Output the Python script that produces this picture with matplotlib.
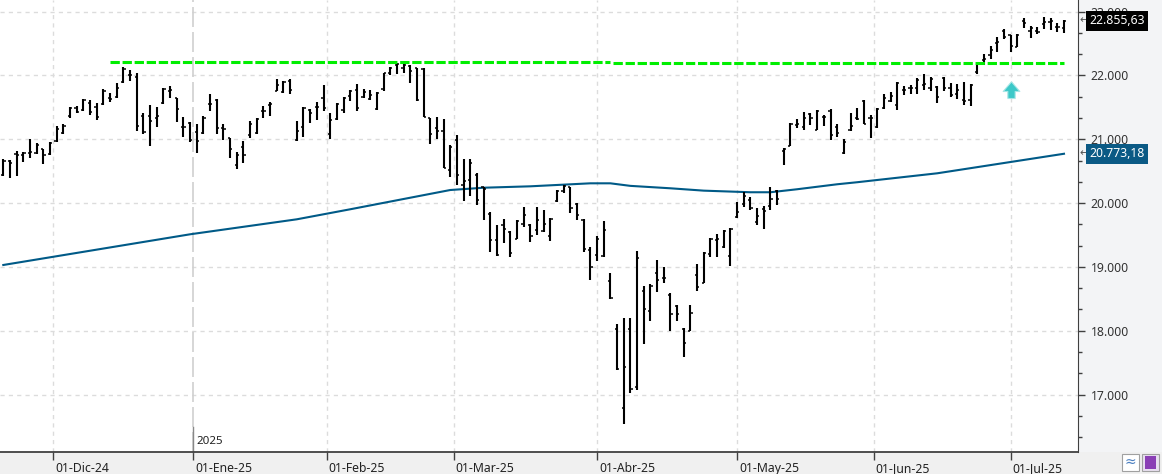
import matplotlib
matplotlib.use('Agg')
import matplotlib.pyplot as plt
import matplotlib.transforms as mtransforms
from matplotlib.patches import Rectangle
from matplotlib.path import Path
import numpy as np
import pandas as pd

# trading calendar (US market holidays skipped)
holidays = ['2024-11-28', '2024-12-25', '2025-01-01', '2025-01-09', '2025-01-20',
            '2025-02-17', '2025-04-18', '2025-05-26', '2025-06-19', '2025-07-04']
dates = pd.bdate_range('2024-11-19', '2025-07-14')
dates = dates[~dates.isin(pd.to_datetime(holidays))]

opens = [20440, 20660, 20770, 20754, 20790, 20780, 20848, 20764, 20974, 21094,
         21366, 21497, 21461, 21565, 21513, 21550, 21654, 21670, 21895, 22010,
         21974, 21366, 21361, 21330, 21565, 21749, 21644, 21199, 21251, 21110,
         21094, 21550, 21618, 21173, 21016, 20597, 20885, 21068, 21094, 21445,
         21539, 21759, 21738, 21916, 20989, 21199, 21461, 21513, 21654, 21084,
         21319, 21461, 21686, 21775, 21661, 21634, 21478, 21791, 22037, 22167,
         22115, 22141, 22115, 22104, 21332, 21175, 21133, 20522, 20992, 20287,
         20366, 20444, 20245, 19828, 19426, 19661, 19540, 19441, 19671, 19661,
         19583, 19557, 19479, 20026, 20182, 20250, 19990, 19740, 19271, 19193,
         19177, 18776, 18031, 16787, 18031, 17110, 18620, 18307, 18900, 18830,
         18560, 18385, 18031, 17995, 18880, 18750, 19208, 19420, 19307, 19177,
         19781, 19990, 20050, 19703, 19900, 19950, 20190, 20817, 20895, 21220,
         21194, 21403, 21141, 21350, 21450, 21200, 20780, 21140, 21330, 21600,
         21340, 21190, 21490, 21600, 21545, 21770, 21796, 21811, 21848, 21796,
         21820, 21960, 21796, 21717, 21620, 21623, 22058, 22250, 22320, 22513,
         22700, 22630, 22450, 22850, 22700, 22700, 22800, 22843, 22760, 22750]
highs = [20691, 20675, 20817, 20806, 21000, 20937, 20848, 20953, 21209, 21236,
         21503, 21524, 21633, 21618, 21565, 21791, 21722, 21880, 22131, 22079,
         22037, 21408, 21539, 21513, 21801, 21838, 21654, 21356, 21277, 21241,
         21366, 21712, 21628, 21241, 21026, 20806, 20974, 21288, 21340, 21524,
         21592, 21948, 21916, 21948, 21293, 21513, 21476, 21592, 21843, 21408,
         21576, 21660, 21775, 21864, 21791, 21775, 21739, 22037, 22131, 22193,
         22178, 22157, 22115, 22115, 21332, 21347, 21316, 20903, 21070, 20695,
         20695, 20470, 20250, 19859, 19661, 19749, 19556, 19729, 19937, 19677,
         19932, 19896, 19766, 20208, 20286, 20260, 20000, 19750, 19313, 19479,
         19714, 18906, 18110, 18203, 18203, 19245, 18708, 18734, 19115, 19000,
         18594, 18396, 18047, 18396, 19052, 19229, 19453, 19521, 19583, 19609,
         20016, 20172, 20094, 19922, 19958, 20260, 20208, 20864, 21257, 21325,
         21429, 21419, 21455, 21377, 21482, 21246, 21010, 21414, 21497, 21623,
         21377, 21497, 21702, 21743, 21900, 21832, 21848, 21953, 22031, 21969,
         21832, 21969, 21885, 21874, 21900, 21864, 22215, 22335, 22461, 22597,
         22723, 22634, 22649, 22895, 22775, 22754, 22911, 22895, 22827, 22869]
lows = [20429, 20398, 20429, 20649, 20701, 20775, 20607, 20754, 20963, 21078,
        21330, 21408, 21445, 21382, 21304, 21539, 21592, 21644, 21880, 21921,
        21131, 21089, 20900, 21199, 21550, 21644, 21277, 21042, 20963, 20790,
        21078, 21445, 21084, 20989, 20712, 20529, 20623, 21016, 21078, 21330,
        21372, 21759, 21722, 21707, 20974, 21042, 21251, 21304, 21445, 21000,
        21304, 21408, 21607, 21436, 21645, 21619, 21462, 21760, 22000, 22021,
        22037, 21880, 21603, 21352, 20924, 21008, 20548, 20407, 20287, 20026,
        20104, 19974, 19728, 19232, 19164, 19373, 19154, 19436, 19619, 19385,
        19495, 19542, 19401, 20010, 20156, 19844, 19729, 19229, 18792, 19089,
        19156, 18500, 17386, 16537, 17026, 17073, 17787, 18151, 18604, 18750,
        17995, 18151, 17594, 17995, 18620, 18750, 19156, 19156, 19297, 19010,
        19766, 19938, 19885, 19651, 19599, 19896, 19974, 20602, 20895, 21178,
        21152, 21230, 21141, 21204, 20995, 21037, 20775, 21131, 21298, 21236,
        21026, 21183, 21482, 21586, 21466, 21691, 21707, 21717, 21780, 21759,
        21571, 21759, 21665, 21639, 21534, 21518, 22021, 22162, 22251, 22372,
        22565, 22372, 22440, 22738, 22581, 22649, 22723, 22712, 22686, 22670]
closes = [20660, 20623, 20754, 20780, 20806, 20911, 20754, 20937, 21162, 21215,
          21487, 21435, 21618, 21435, 21356, 21759, 21633, 21801, 22105, 22000,
          21209, 21110, 21288, 21361, 21791, 21775, 21476, 21188, 20989, 20974,
          21340, 21550, 21183, 21162, 20843, 20754, 20754, 21236, 21319, 21445,
          21555, 21853, 21895, 21775, 21131, 21487, 21408, 21503, 21487, 21304,
          21555, 21644, 21759, 21488, 21739, 21697, 21723, 22037, 22115, 22178,
          22167, 22073, 21619, 21352, 21086, 21133, 20548, 20877, 20433, 20350,
          20627, 20052, 20219, 19426, 19190, 19598, 19217, 19723, 19817, 19479,
          19740, 19677, 19755, 20182, 20271, 19922, 19818, 19281, 19000, 19438,
          19573, 18516, 17406, 17438, 17094, 19141, 18344, 18698, 18802, 18830,
          18266, 18266, 17813, 18281, 18688, 19219, 19438, 19430, 19570, 19590,
          19860, 20104, 19922, 19792, 19870, 20063, 20063, 20850, 21236, 21246,
          21340, 21340, 21440, 21356, 21073, 21100, 20960, 21204, 21325, 21246,
          21330, 21480, 21654, 21675, 21890, 21780, 21800, 21930, 21870, 21950,
          21665, 21796, 21700, 21770, 21600, 21850, 22190, 22251, 22400, 22520,
          22597, 22461, 22634, 22827, 22738, 22686, 22843, 22850, 22764, 22855.63]

# 200-session moving average, read at a few sessions
ma_dates = ['2024-11-19', '2024-12-31', '2025-01-27', '2025-02-06', '2025-02-28',
            '2025-03-07', '2025-03-18', '2025-03-31', '2025-04-03', '2025-04-08',
            '2025-04-16', '2025-04-24', '2025-05-05', '2025-05-08', '2025-05-14',
            '2025-05-22', '2025-05-28', '2025-06-13', '2025-07-14']
ma_values = [19030, 19511, 19746, 19903, 20205, 20241, 20263, 20310, 20310, 20270,
             20232, 20195, 20170, 20170, 20217, 20295, 20327, 20467, 20773.18]

# resistance line drawn on the chart (two segments)
resist_dates = ['2024-12-12', '2025-04-03', '2025-07-14']
resist_levels = [22212, 22191]

arrow_date = '2025-07-01'
arrow_price = 21650

month_starts = ['2024-12-01', '2025-01-01', '2025-02-01', '2025-03-01',
                '2025-04-01', '2025-05-01', '2025-06-01', '2025-07-01']
month_labels = ['01-Dic-24', '01-Ene-25', '01-Feb-25', '01-Mar-25',
                '01-Abr-25', '01-May-25', '01-Jun-25', '01-Jul-25']
price_ticks = [17000, 18000, 19000, 20000, 21000, 22000, 23000]


def pos(d):
    # session index of the first session on or after d
    return int(np.searchsorted(dates, pd.Timestamp(d)))


def month_line(d):
    # month separator sits half a session early when the 1st is not a session
    i = pos(d)
    return i if dates[i] == pd.Timestamp(d) else i - 0.5


x = np.arange(len(dates))
plt.rcParams['font.family'] = ['Noto Sans', 'DejaVu Sans']

fig = plt.figure(figsize=(11.62, 4.74), dpi=100, facecolor='#f0f0f0')
ax = fig.add_axes([0, 22 / 474, 1078 / 1162, 452 / 474])
ax.set_facecolor('white')
ax.set_xlim(-0.495, 161.1)
ax.set_ylim(16099, 23183)

# grid
for p in price_ticks:
    ax.axhline(p, color='#dcdcdc', lw=1, ls=(0, (3, 3)), zorder=0)
month_pos = [month_line(d) for d in month_starts]
for mp, lab in zip(month_pos, month_labels):
    if lab == '01-Ene-25':
        ax.axvline(mp, color='#cfcfcf', lw=1.2, ls=(0, (12, 3)), zorder=0)
    else:
        ax.axvline(mp, color='#dcdcdc', lw=1, ls=(0, (3, 3)), zorder=0)

# moving average
ax.plot([pos(d) for d in ma_dates], ma_values, color='#005a87', lw=1.5, zorder=2)

# ohlc bars
ax.vlines(x, lows, highs, color='black', lw=1.5, zorder=3)
ax.hlines(opens, x - 0.33, x, color='black', lw=1.1, zorder=3)
ax.hlines(closes, x, x + 0.33, color='black', lw=1.1, zorder=3)

# resistance
ax.plot([pos(resist_dates[0]), pos(resist_dates[1])], [resist_levels[0]] * 2,
        color='#00ee00', lw=2.2, ls=(0, (3.05, 0.9)), zorder=4, solid_capstyle='butt')
ax.plot([pos(resist_dates[1]) + 0.4, pos(resist_dates[2])], [resist_levels[1]] * 2,
        color='#00ee00', lw=2.2, ls=(0, (3.05, 0.9)), zorder=4, solid_capstyle='butt')

# up arrow
arrow_marker = Path([(-0.22, 0.0), (-0.22, 0.42), (-0.5, 0.42), (0.0, 1.0),
                     (0.5, 0.42), (0.22, 0.42), (0.22, 0.0), (-0.22, 0.0)])
ax.plot([pos(arrow_date)], [arrow_price], marker=arrow_marker, ms=24,
        color='#3cc8c8', mec='#a8e6e6', mew=0.8, ls='none', zorder=5)

# axes styling
for s in ['top', 'left']:
    ax.spines[s].set_visible(False)
ax.spines['right'].set_color('#404040')
ax.spines['bottom'].set_color('#404040')
ax.spines['bottom'].set_linewidth(1.3)
ax.yaxis.tick_right()
ax.set_yticks(price_ticks)
ax.set_yticklabels([f'{p:,.0f}'.replace(',', '.') for p in price_ticks])
ax.set_yticks([p + k * 1000 / 3 for p in [16000] + price_ticks for k in (1, 2)
               if 16099 < p + k * 1000 / 3 < 23183], minor=True)
ax.tick_params(axis='y', which='major', direction='out', length=5, width=1,
               color='#404040', labelsize=8.8, labelcolor='#333333', pad=4)
ax.tick_params(axis='y', which='minor', direction='out', length=3, width=1,
               color='#404040')
ax.set_xticks(month_pos)
ax.set_xticklabels(month_labels, ha='left')
ax.tick_params(axis='x', direction='out', length=6, width=1, color='#404040',
               labelsize=8.8, labelcolor='#222222', pad=1)
for t in ax.get_xticklabels():
    t.set_transform(t.get_transform() + mtransforms.ScaledTranslation(2 / 100, 0, fig.dpi_scale_trans))

# year marker
tr = mtransforms.blended_transform_factory(ax.transData, ax.transAxes)
jan = month_line('2025-01-01')
ax.plot([jan, jan], [0, 0.055], color='#888888', lw=1, transform=tr, clip_on=False)
ax.text(jan + 0.4, 0.012, '2025', transform=tr, fontsize=8.3, color='#222222', va='bottom')

# right panel background
fig.patches.append(Rectangle((1079 / 1162, 22 / 474), 83 / 1162, 452 / 474,
                             transform=fig.transFigure, facecolor='#f3f4f6',
                             edgecolor='none', zorder=-1))

# last value tags
tr2 = mtransforms.blended_transform_factory(ax.transAxes, ax.transData)
for val, txt, bg in [(closes[-1], '22.855,63', 'black'),
                     (ma_values[-1], '20.773,18', '#0b5a85')]:
    ax.text(1.0105, val, txt, transform=tr2, fontsize=8.8, color='white',
            va='center', ha='left', clip_on=False, zorder=10,
            bbox=dict(facecolor=bg, edgecolor='none', pad=2.6))
    ax.text(1.0015, val, '\u2190', transform=tr2, fontsize=8, color='#555555',
            va='center', ha='left', clip_on=False)

# bottom-right buttons
fig.patches.append(Rectangle((1122 / 1162, 3 / 474), 17 / 1162, 17 / 474,
                             transform=fig.transFigure, facecolor='white',
                             edgecolor='#a0a0a0', lw=0.8))
fig.text(1130.5 / 1162, 11.5 / 474, '\u2248', color='#4a7fc0', fontsize=10,
         ha='center', va='center')
fig.patches.append(Rectangle((1142 / 1162, 3 / 474), 17 / 1162, 17 / 474,
                             transform=fig.transFigure, facecolor='#e8e0f0',
                             edgecolor='#a0a0a0', lw=0.8))
fig.patches.append(Rectangle((1145 / 1162, 5 / 474), 11 / 1162, 13 / 474,
                             transform=fig.transFigure, facecolor='#8a3fb5',
                             edgecolor='none'))

fig.savefig('out.png', dpi=100, facecolor=fig.get_facecolor())
